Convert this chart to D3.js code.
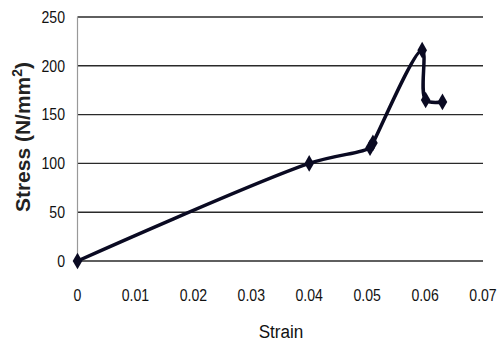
<!DOCTYPE html>
<html><head><meta charset="utf-8">
<script src="https://cdn.jsdelivr.net/npm/d3@7/dist/d3.min.js"></script>
<style>body{margin:0;background:#fff}svg{display:block}</style>
</head><body>
<svg id="c" width="497" height="349"></svg>
<script>
const strain = [0, 0.04, 0.0505, 0.051, 0.0595, 0.0601, 0.063];
const stress = [0, 100, 116, 121, 216, 165, 163];
const xTicks = [0, 0.01, 0.02, 0.03, 0.04, 0.05, 0.06, 0.07];
const yTicks = [0, 50, 100, 150, 200, 250];
const xLabels = ["0", "0.01", "0.02", "0.03", "0.04", "0.05", "0.06", "0.07"];

const svg = d3.select("#c");
const x = d3.scaleLinear().domain([0, 0.07]).range([77.5, 483]);
const y = d3.scaleLinear().domain([0, 250]).range([261, 17]);
const font = "'Liberation Sans',Arial,sans-serif";

// gridlines
svg.append("g").selectAll("line").data(yTicks).join("line")
  .attr("x1", x(0)).attr("x2", x(0.07))
  .attr("y1", d => y(d)).attr("y2", d => y(d))
  .attr("stroke", "#2a2a2a").attr("stroke-width", 1.4);
// left axis line
svg.append("line").attr("x1", x(0)).attr("x2", x(0)).attr("y1", y(250)).attr("y2", y(0))
  .attr("stroke", "#999").attr("stroke-width", 1.2);

// y tick labels
svg.append("g").selectAll("text").data(yTicks).join("text")
  .attr("transform", d => `translate(65,${y(d)}) scale(0.88,1)`).attr("dy", "0.36em")
  .attr("text-anchor", "end").attr("font-family", font).attr("font-size", 16)
  .attr("fill", "#111").text(d => d);
// x tick labels
svg.append("g").selectAll("text").data(xTicks).join("text")
  .attr("transform", d => `translate(${x(d)},301) scale(0.88,1)`)
  .attr("text-anchor", "middle").attr("font-family", font).attr("font-size", 16)
  .attr("fill", "#111").text((d, i) => xLabels[i]);

// titles
svg.append("text").attr("transform", "translate(281,338) scale(0.9,1)").attr("text-anchor", "middle")
  .attr("font-family", font).attr("font-size", 19)
  .attr("fill", "#111").text("Strain");
const yt = svg.append("text").attr("transform", "translate(30,137) rotate(-90)")
  .attr("text-anchor", "middle").attr("font-family", font)
  .attr("font-size", 21).attr("font-weight", "bold").attr("fill", "#222");
yt.append("tspan").text("Stress (N/mm");
yt.append("tspan").attr("baseline-shift", "super").attr("font-size", 14).text("2");
yt.append("tspan").text(")");

// line
const pts = strain.map((s, i) => [s, stress[i]]);
const line = d3.line().x(d => x(d[0])).y(d => y(d[1])).curve(d3.curveCatmullRom.alpha(0.5));
svg.append("path").attr("d", line(pts)).attr("fill", "none")
  .attr("stroke", "#0a0a22").attr("stroke-width", 3.5).attr("stroke-linejoin", "round");

// markers
svg.append("g").selectAll("path").data(pts).join("path")
  .attr("transform", d => `translate(${x(d[0])},${y(d[1])})`)
  .attr("d", d3.symbol(d3.symbolDiamond, 80)())
  .attr("fill", "#0a0a22");
</script>
</body></html>
